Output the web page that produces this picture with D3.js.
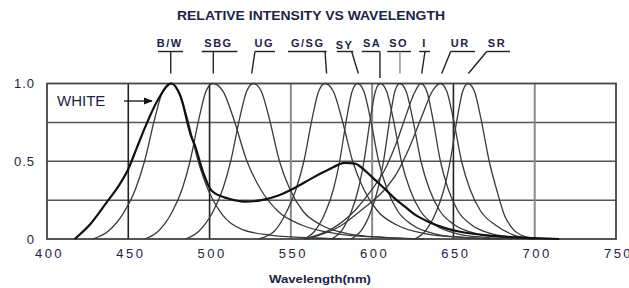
<!DOCTYPE html>
<html>
<head>
<meta charset="utf-8">
<script src="https://cdn.jsdelivr.net/npm/d3@7"></script>
<style>
  body { margin: 0; background: #fff; }
  text { font-family: Arial, "Liberation Sans", sans-serif; }
</style>
</head>
<body>
<div id="container"></div>
<script>
// tick values
const wavelengthTicks = [400, 450, 500, 550, 600, 650, 700, 750];
const intensityTicks = [1, 0.5, 0];
const intensityTickLabels = ["1.0", "0.5", "0"];
const gridIntensity = [0.25, 0.5, 0.75];
const darkGridWavelength = [450, 500, 650];
const lightGridWavelength = [550, 600, 700];

// spectra, [wavelength nm, relative intensity]
const seriesBW = [[428,0],[437.6,0.05],[447.2,0.17],[454.4,0.32],[460,0.5],[466.4,0.78],[471.2,0.95],[476,1],
  [481.1,0.95],[486.2,0.78],[493,0.5],[499.8,0.3],[508.3,0.15],[520.2,0.06],[537.2,0.025],[561,0.008],[581,0]];
const seriesSBG = [[460,0],[468.4,0.05],[476.8,0.17],[483.1,0.32],[488,0.5],[493.6,0.78],[497.8,0.95],[502,1],
  [508.3,0.95],[514.6,0.78],[523,0.5],[531.4,0.32],[541.9,0.18],[556.6,0.09],[577.6,0.035],[607,0.01],[632,0]];
const seriesUG = [[485,0],[493.4,0.05],[501.8,0.17],[508.1,0.32],[513,0.5],[518.6,0.78],[522.8,0.95],[527,1],
  [531.8,0.95],[536.6,0.78],[543,0.5],[549.4,0.32],[557.4,0.18],[568.6,0.09],[584.6,0.035],[607,0.01],[626,0]];
const seriesGSG = [[530,0],[539.8,0.05],[547.6,0.18],[553.5,0.33],[558,0.5],[563.2,0.78],[567.1,0.95],[571,1],
  [576.1,0.95],[581.2,0.78],[588,0.5],[594.8,0.32],[603.3,0.18],[615.2,0.09],[632.2,0.035],[656,0.01],[680,0]];
const seriesSY = [[558,0],[564.6,0.05],[571.2,0.17],[576.2,0.32],[580,0.5],[584.4,0.78],[587.7,0.95],[591,1],
  [594.9,0.95],[598.8,0.78],[604,0.5],[609.2,0.32],[615.7,0.18],[624.8,0.09],[637.8,0.035],[656,0.01],[672,0]];
const seriesSA = [[575,0],[581,0.05],[587,0.17],[591.5,0.32],[595,0.5],[599,0.78],[602,0.95],[605,1],
  [608.9,0.95],[612.8,0.78],[618,0.5],[623.2,0.32],[629.7,0.18],[638.8,0.09],[651.8,0.035],[670,0.01],[686,0]];
const seriesSO = [[587,0],[593,0.05],[599,0.17],[603.5,0.32],[607,0.5],[611,0.78],[614,0.95],[617,1],
  [620.9,0.95],[624.8,0.78],[630,0.5],[635.2,0.32],[641.7,0.18],[650.8,0.09],[663.8,0.035],[682,0.01],[698,0]];
const seriesI = [[558,0],[576,0.07],[590,0.19],[600,0.32],[608,0.45],[615,0.62],[621,0.8],[626,0.94],[630,1],
  [633.6,0.95],[637.2,0.78],[642,0.5],[646.8,0.32],[652.8,0.18],[661.2,0.09],[673.2,0.035],[690,0.008],[700,0]];
const seriesUR = [[560,0],[580,0.08],[595,0.2],[607,0.31],[615,0.42],[623,0.59],[631,0.8],[637,0.95],[642,1],
  [645.9,0.95],[649.8,0.78],[655,0.5],[660.2,0.32],[666.7,0.18],[675.8,0.09],[686,0.03],[700,0]];
const seriesSR = [[626,0],[632.6,0.05],[639.2,0.17],[644.2,0.32],[648,0.5],[652.4,0.78],[655.7,0.95],[659,1],
  [662.9,0.95],[666.8,0.78],[672,0.5],[676.5,0.32],[681.5,0.15],[687,0.06],[694,0.015],[700,0]];
const seriesWhite = [[417,0],[427,0.1],[437.7,0.25],[444,0.34],[450,0.45],[455,0.58],[460,0.71],[468.5,0.9],[476.5,1],
  [482,0.92],[488.7,0.66],[491,0.6],[496,0.43],[501.3,0.31],[511.5,0.26],[521.8,0.24],[532,0.25],[542.3,0.28],
  [552.6,0.33],[562.8,0.39],[573,0.445],[583.3,0.49],[589.5,0.485],[595.6,0.44],[601.8,0.38],[608,0.32],[614,0.26],
  [620,0.21],[626.6,0.155],[634.8,0.11],[645,0.07],[655,0.045],[669,0.025],[681.6,0.015],[700,0.006],[715,0]];

const ledSeries = [seriesBW, seriesSBG, seriesUG, seriesGSG, seriesSY, seriesSA, seriesSO, seriesI, seriesUR, seriesSR];

// labels above the chart: name, text centre, underline from/to, leader top/bottom (all nm)
const ledNames = ["B/W", "SBG", "UG", "G/SG", "SY", "SA", "SO", "I", "UR", "SR"];
const labelCenter = [475.5, 505.5, 533.6, 560.4, 583, 600, 616.3, 632.2, 654.2, 676.8];
const underlineFrom = [468.3, 495.2, 527.9, 548.2, 578.2, 593.6, 609.3, 629.0, 648.3, 670.5];
const underlineTo = [483.7, 517.1, 540.2, 572.0, 588.4, 604.8, 623.9, 635.6, 663.3, 684.8];
const leaderTop = [476.1, 502.3, 527.9, 571.0, 587.4, 604.8, 617.1, 632.5, 648.3, 670.5];
const leaderBottom = [476.1, 502.3, 525.9, 572.0, 591.5, 604.8, 617.1, 630.5, 642.8, 659.2];

const width = 629;
const height = 288;
const textColor = "#1c2444";

const x = d3.scaleLinear([400, 750], [47, 616]);
const y = d3.scaleLinear([0, 1], [239, 83.5]);

const svg = d3.create("svg")
  .attr("width", width)
  .attr("height", height)
  .attr("viewBox", [0, 0, width, height]);

// title
svg.append("text")
  .attr("x", 311).attr("y", 20)
  .attr("text-anchor", "middle")
  .attr("font-size", 13).attr("font-weight", "bold")
  .attr("fill", textColor)
  .attr("textLength", 268).attr("lengthAdjust", "spacingAndGlyphs")
  .text("RELATIVE INTENSITY VS WAVELENGTH");

// grid
svg.append("g").selectAll("line").data(gridIntensity).join("line")
  .attr("x1", x(400)).attr("x2", x(750))
  .attr("y1", d => y(d)).attr("y2", d => y(d))
  .attr("stroke", "#555").attr("stroke-width", 1.5);

svg.append("g").selectAll("line").data(lightGridWavelength).join("line")
  .attr("x1", d => x(d)).attr("x2", d => x(d))
  .attr("y1", y(0)).attr("y2", y(1))
  .attr("stroke", "#8a8a8a").attr("stroke-width", 2);

svg.append("g").selectAll("line").data(darkGridWavelength).join("line")
  .attr("x1", d => x(d)).attr("x2", d => x(d))
  .attr("y1", y(0)).attr("y2", y(1))
  .attr("stroke", "#222").attr("stroke-width", 1.6);

svg.append("rect")
  .attr("x", x(400)).attr("y", y(1))
  .attr("width", x(750) - x(400)).attr("height", y(0) - y(1))
  .attr("fill", "none").attr("stroke", "#444").attr("stroke-width", 1.8);

// curves
const line = d3.line().x(d => x(d[0])).y(d => y(d[1])).curve(d3.curveMonotoneX);

svg.append("g").selectAll("path").data(ledSeries).join("path")
  .attr("fill", "none")
  .attr("stroke", "#3a3a3a")
  .attr("stroke-width", 1.3)
  .attr("d", line);

svg.append("path")
  .attr("fill", "none")
  .attr("stroke", "#111")
  .attr("stroke-width", 2.2)
  .attr("d", line(seriesWhite));

// x axis labels
svg.append("g")
  .attr("transform", `translate(0,${y(0)})`)
  .call(d3.axisBottom(x).tickValues(wavelengthTicks).tickSize(0).tickPadding(10))
  .call(g => g.select(".domain").remove())
  .call(g => g.selectAll("text")
    .attr("font-size", 13)
    .attr("letter-spacing", "2.5px")
    .attr("dx", "2px")
    .attr("fill", textColor));

svg.append("text")
  .attr("x", 320).attr("y", 283)
  .attr("text-anchor", "middle")
  .attr("font-size", 11).attr("font-weight", "bold")
  .attr("fill", textColor)
  .attr("textLength", 102).attr("lengthAdjust", "spacingAndGlyphs")
  .text("Wavelength(nm)");

// y axis labels
svg.append("g")
  .attr("transform", `translate(${x(400) - 12},0)`)
  .call(d3.axisLeft(y).tickValues(intensityTicks).tickFormat((d, i) => intensityTickLabels[i]).tickSize(0).tickPadding(0))
  .call(g => g.select(".domain").remove())
  .call(g => g.selectAll("text")
    .attr("font-size", 13)
    .attr("letter-spacing", "1px")
    .attr("fill", textColor));

// LED labels with leaders
const labels = svg.append("g");
ledNames.forEach((name, i) => {
  labels.append("text")
    .attr("x", x(labelCenter[i])).attr("y", name === "SY" ? 48.5 : 47)
    .attr("text-anchor", "middle")
    .attr("font-size", 11).attr("font-weight", "bold")
    .attr("letter-spacing", "1.5px")
    .attr("fill", textColor)
    .text(name);
  labels.append("line")
    .attr("x1", x(underlineFrom[i])).attr("x2", x(underlineTo[i]))
    .attr("y1", 51.5).attr("y2", 51.5)
    .attr("stroke", "#222").attr("stroke-width", 1.4);
  labels.append("line")
    .attr("x1", x(leaderTop[i])).attr("x2", x(leaderBottom[i]))
    .attr("y1", 51.5).attr("y2", name === "SA" ? 78 : 73.5)
    .attr("stroke", name === "SO" ? "#888" : "#222").attr("stroke-width", 1.4);
});

// WHITE annotation
svg.append("defs").append("marker")
  .attr("id", "arrow")
  .attr("viewBox", "0 0 10 10")
  .attr("refX", 9).attr("refY", 5)
  .attr("markerWidth", 7).attr("markerHeight", 7)
  .attr("orient", "auto")
  .append("path")
  .attr("d", "M0,1 L10,5 L0,9 Z")
  .attr("fill", "#111");

svg.append("text")
  .attr("x", 57).attr("y", 106)
  .attr("font-size", 15)
  .attr("fill", textColor)
  .text("WHITE");

svg.append("line")
  .attr("x1", 124).attr("x2", 152)
  .attr("y1", 101).attr("y2", 101)
  .attr("stroke", "#111").attr("stroke-width", 1.3)
  .attr("marker-end", "url(#arrow)");

document.getElementById("container").append(svg.node());
</script>
</body>
</html>
